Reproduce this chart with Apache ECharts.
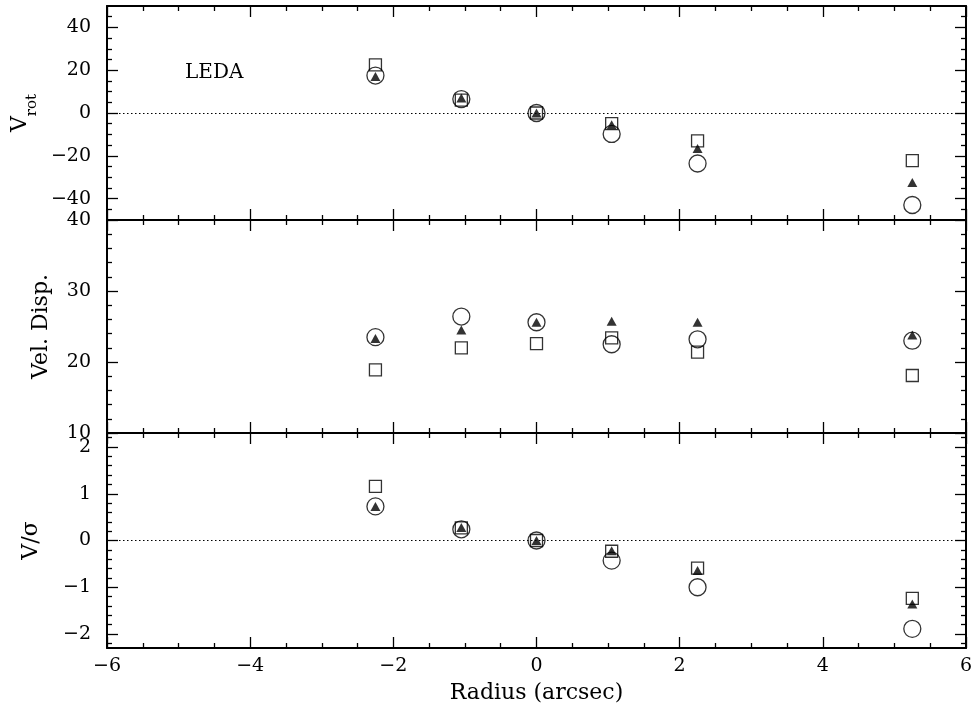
<!DOCTYPE html>
<html>
<head>
<meta charset="utf-8">
<script src="https://cdn.jsdelivr.net/npm/echarts@6/dist/echarts.min.js"></script>
<style>
  html, body { margin: 0; padding: 0; background: #fff; }
  #chart { width: 975px; height: 715px; }
</style>
</head>
<body>
<div id="chart"></div>
<script>
// Radius of each measured aperture (arcsec)
const radius = [-2.25, -1.05, 0, 1.05, 2.25, 5.25];

// Rotation velocity
const vrotSquare   = [22.5, 6.0, 0, -5.0, -13.0, -22.3];
const vrotTriangle = [17.0, 7.0, 0, -5.5, -16.6, -32.5];
const vrotCircle   = [17.5, 6.5, 0, -9.8, -23.6, -43.0];

// Velocity dispersion
const dispSquare   = [18.9, 22.0, 22.6, 23.4, 21.4, 18.1];
const dispTriangle = [23.3, 24.5, 25.6, 25.75, 25.6, 23.8];
const dispCircle   = [23.5, 26.4, 25.6, 22.5, 23.2, 23.0];

// V / sigma
const vsigSquare   = [1.16, 0.27, 0, -0.23, -0.59, -1.24];
const vsigTriangle = [0.73, 0.28, 0, -0.22, -0.64, -1.36];
const vsigCircle   = [0.73, 0.24, 0, -0.43, -1.00, -1.89];

// Tick values
const vrotMajor = [-40, -20, 0, 20, 40];
const vrotMinor = [-45, -35, -30, -25, -15, -10, -5, 5, 10, 15, 25, 30, 35, 45];
const dispMajor = [10, 20, 30, 40];
const dispMinor = [12, 14, 16, 18, 22, 24, 26, 28, 32, 34, 36, 38];
const vsigMajor = [-2, -1, 0, 1, 2];
const vsigMinor = [-2.2, -1.8, -1.6, -1.4, -1.2, -0.8, -0.6, -0.4, -0.2,
                   0.2, 0.4, 0.6, 0.8, 1.2, 1.4, 1.6, 1.8, 2.2];

const FONT = 'DejaVu Serif';
const INK = '#000';

const minus = v => String(v).replace('-', '\u2212');

const panels = [
  { top: 6,   height: 214, min: -50, max: 50,   major: vrotMajor, minor: vrotMinor,
    name: '{v|V}{s|rot}', nameGap: 64, zero: true,
    sq: vrotSquare, tri: vrotTriangle, circ: vrotCircle },
  { top: 220, height: 213, min: 10,  max: 40,   major: dispMajor, minor: dispMinor,
    name: 'Vel. Disp.', nameGap: 55, zero: false,
    sq: dispSquare, tri: dispTriangle, circ: dispCircle },
  { top: 433, height: 215, min: -2.3, max: 2.3, major: vsigMajor, minor: vsigMinor,
    name: 'V/\u03c3', nameGap: 65, zero: true,
    sq: vsigSquare, tri: vsigTriangle, circ: vsigCircle }
];

const grid = [], xAxis = [], yAxis = [], series = [];

panels.forEach((p, i) => {
  grid.push({ left: 107, width: 859, top: p.top, height: p.height, outerBoundsMode: 'none' });

  const isLast = i === panels.length - 1;
  ['bottom', 'top'].forEach(pos => {
    xAxis.push({
      gridIndex: i, type: 'value', position: pos,
      min: -6, max: 6, interval: 2,
      axisLine: { onZero: false, lineStyle: { color: INK, width: 2 } },
      axisTick: { inside: true, length: 11, lineStyle: { color: INK, width: 1.3 } },
      minorTick: { show: true, splitNumber: 4, length: 5, lineStyle: { color: INK, width: 1.3 } },
      splitLine: { show: false },
      axisLabel: {
        show: isLast && pos === 'bottom', margin: 9,
        showMinLabel: true, showMaxLabel: true,
        fontFamily: FONT, fontSize: 19, color: INK, formatter: minus
      },
      name: isLast && pos === 'bottom' ? 'Radius (arcsec)' : '',
      nameLocation: 'middle', nameGap: 34,
      nameTextStyle: { fontFamily: FONT, fontSize: 22, color: INK }
    });
  });

  ['left', 'right'].forEach(pos => {
    // major ticks, frame line and labels
    yAxis.push({
      gridIndex: i, type: 'value', position: pos,
      min: p.min, max: p.max,
      axisLine: { show: true, onZero: false, lineStyle: { color: INK, width: 2 } },
      axisTick: { inside: true, length: 11, customValues: p.major,
                  lineStyle: { color: INK, width: 1.3 } },
      splitLine: { show: false },
      axisLabel: {
        show: pos === 'left', customValues: p.major, margin: 16,
        fontFamily: FONT, fontSize: 19, color: INK, formatter: minus
      },
      name: pos === 'left' ? p.name : '',
      nameLocation: 'middle', nameGap: p.nameGap,
      nameTextStyle: {
        fontFamily: FONT, fontSize: 22, color: INK,
        rich: {
          v: { fontFamily: FONT, fontSize: 22, color: INK, verticalAlign: 'top' },
          s: { fontFamily: FONT, fontSize: 15, color: INK, lineHeight: 31, verticalAlign: 'bottom' }
        }
      }
    });
    // minor ticks
    yAxis.push({
      gridIndex: i, type: 'value', position: pos,
      min: p.min, max: p.max,
      axisLine: { show: false, onZero: false },
      axisTick: { inside: true, length: 5, customValues: p.minor,
                  lineStyle: { color: INK, width: 1.3 } },
      splitLine: { show: false },
      axisLabel: { show: false }
    });
  });

  const xi = i * 2, yi = i * 4;
  const pts = arr => radius.map((r, k) => [r, arr[k]]);

  series.push({
    type: 'scatter', xAxisIndex: xi, yAxisIndex: yi,
    data: pts(p.circ), symbol: 'circle', symbolSize: 17,
    itemStyle: { color: 'rgba(0,0,0,0)', borderColor: INK, borderWidth: 1.3 },
    markLine: p.zero ? {
      silent: true, symbol: 'none', label: { show: false },
      lineStyle: { color: INK, width: 1, type: [1.5, 2.5] },
      data: [{ yAxis: 0 }]
    } : undefined
  });
  series.push({
    type: 'scatter', xAxisIndex: xi, yAxisIndex: yi,
    data: pts(p.sq), symbol: 'rect', symbolSize: 12,
    itemStyle: { color: 'rgba(0,0,0,0)', borderColor: INK, borderWidth: 1.3 }
  });
  series.push({
    type: 'scatter', xAxisIndex: xi, yAxisIndex: yi,
    data: pts(p.tri), symbol: 'triangle', symbolSize: [10, 9],
    itemStyle: { color: INK }
  });
});

const chart = echarts.init(document.getElementById('chart'));
chart.setOption({
  animation: false,
  backgroundColor: '#fff',
  title: {
    text: 'LEDA', left: 185, top: 63, padding: 0,
    textStyle: { fontFamily: FONT, fontSize: 20, fontWeight: 'normal', color: INK }
  },
  grid, xAxis, yAxis, series
});
</script>
</body>
</html>
